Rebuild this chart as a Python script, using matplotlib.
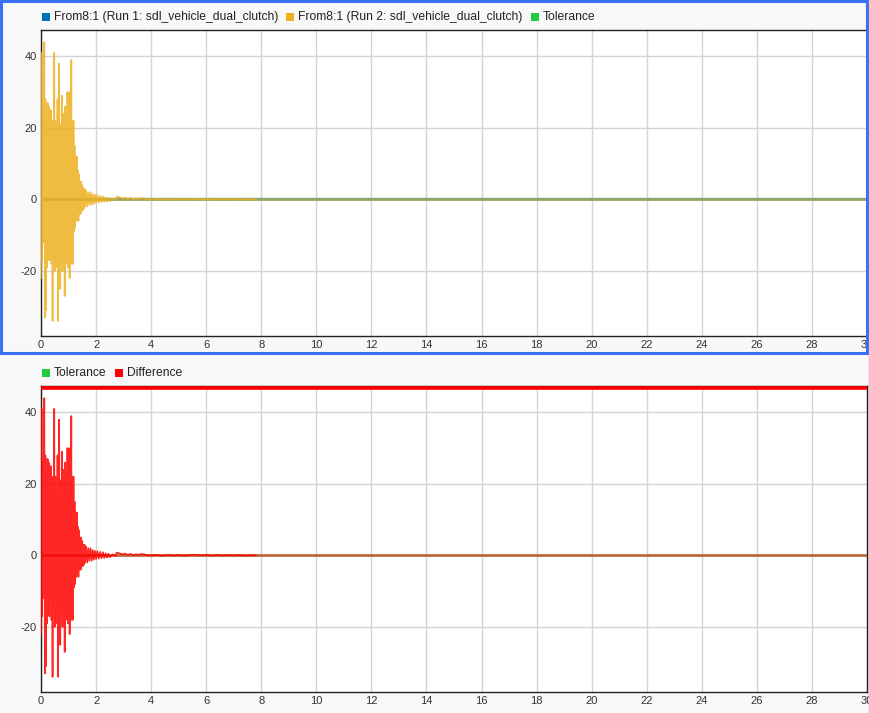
"""
plot.py - two stacked signal panels (runs + difference), Data Inspector style.
"""

import numpy as np
import matplotlib
matplotlib.use("Agg")
import matplotlib.pyplot as plt
from matplotlib.patches import Rectangle

# ---- data ----------------------------------------------------------------
# Run 1 stays at (about) zero the whole time
run1_t = [0.0, 30.0]
run1_v = [0.0, 0.0]

# Run 2: strong rattle that dies out after ~2 s, tiny noise until ~7.8 s
run2_t = [
    0.00, 0.02, 0.04, 0.06, 0.08, 0.10, 0.12, 0.14, 0.16, 0.18,
    0.20, 0.22, 0.24, 0.26, 0.28, 0.30, 0.32, 0.34, 0.36, 0.38,
    0.40, 0.42, 0.44, 0.46, 0.48, 0.50, 0.52, 0.54, 0.56, 0.58,
    0.60, 0.62, 0.64, 0.66, 0.68, 0.70, 0.72, 0.74, 0.76, 0.78,
    0.80, 0.82, 0.84, 0.86, 0.88, 0.90, 0.92, 0.94, 0.96, 0.98,
    1.00, 1.02, 1.04, 1.06, 1.08, 1.10, 1.12, 1.14, 1.16, 1.18,
    1.20, 1.22, 1.24, 1.26, 1.28, 1.30, 1.32, 1.34, 1.36, 1.38,
    1.40, 1.42, 1.44, 1.46, 1.48, 1.50, 1.52, 1.54, 1.56, 1.58,
    1.60, 1.64, 1.68, 1.72, 1.76, 1.80, 1.84, 1.88, 1.92, 1.96,
    2.00, 2.05, 2.10, 2.15, 2.20, 2.25, 2.30, 2.35, 2.40, 2.45,
    2.50, 2.60, 2.70, 2.75, 2.85, 2.95, 3.05, 3.15, 3.25, 3.35,
    3.45, 3.55, 3.65, 3.75, 3.85, 4.00, 4.20, 4.40, 4.60, 4.80,
    5.00, 5.20, 5.40, 5.60, 5.80, 6.00, 6.20, 6.40, 6.60, 6.80,
    7.00, 7.20, 7.40, 7.60, 7.80,
]
run2_v = [
    -22, 41, -17, 26, -12, 18, 44, -33, 28, -31,
    24, -19, 27, -14, 26, -17, 21, -13, 25, -18,
    15, -34, 22, -16, 41, -20, 22, -19, 18, -15,
    28, -34, 25, 38, -18, -25, 21, -17, 29, -20,
    24, -16, 20, -27, 26, -18, 22, -15, 30, -19,
    20, 30, -22, 18, -17, 39, -18, 22, -18, 22,
    -9, 15, -8, 12, -6, 12, -5, 8, -6, 7,
    -4, 5, -4, 5, -3, 4, -3, 3, -2.5, 3,
    -2, 2.5, -2, 2, -1.5, 2, -1.5, 1.5, -1.2, 1.3,
    -1, 1.2, -0.9, 1, -0.8, 0.9, -0.7, 0.6, -0.6, 0.5,
    -0.5, 0.3, -0.2, 0.8, 0.6, 0.3, 0.5, 0.2, 0.4, 0.1,
    0.3, 0.2, 0.4, 0.3, 0.1, 0, 0.15, -0.1, 0.15, -0.05,
    0.15, -0.05, 0.1, 0.2, 0, 0.15, -0.05, 0.15, 0, 0.1,
    0, 0.1, -0.05, 0.05, 0,
]

# tolerance (zero band) over the whole run
tol_t = [0.0, 30.0]
tol_v = [0.0, 0.0]

# out-of-tolerance flag drawn at the top of the difference panel
flag_t = [0.0, 30.0]
flag_v = [46.8, 46.8]

x_ticks = list(range(0, 31, 2))
y_ticks = [-20, 0, 20, 40]

top_labels = ["From8:1 (Run 1: sdl_vehicle_dual_clutch)",
              "From8:1 (Run 2: sdl_vehicle_dual_clutch)",
              "Tolerance"]
bottom_labels = ["Tolerance", "Difference"]

# ---- colours ----------------------------------------------------------------
BLUE = "#0072bd"
YELLOW = "#edb120"
GREEN = "#1fcc3f"
RED = "#ff0000"
TOP_OVERLAP = "#98a860"     # runs + tolerance drawn on top of each other
BOT_OVERLAP = "#be6a3c"     # difference + tolerance drawn on top of each other
BG = "#f8f8f8"
FRAME = "#3a6ff7"

plt.rcParams["font.family"] = ["Liberation Sans", "DejaVu Sans"]
plt.rcParams["axes.unicode_minus"] = False

W, H = 870, 713
fig = plt.figure(figsize=(W / 100, H / 100), dpi=100, facecolor=BG)


def px_axes(left, top, right, bottom):
    return fig.add_axes([left / W, 1 - bottom / H, (right - left) / W, (bottom - top) / H])


def style(ax):
    ax.set_facecolor("white")
    ax.set_xlim(0, 30)
    ax.set_ylim(-38.2, 47.4)
    ax.set_xticks(x_ticks)
    ax.set_yticks(y_ticks)
    ax.grid(True, color="#d4d4d4", linewidth=1.0)
    ax.set_axisbelow(True)
    ax.tick_params(length=0, labelsize=8, colors="#333333", pad=3)
    for s in ax.spines.values():
        s.set_color("#222222")
        s.set_linewidth(1.0)


def legend_row(y, labels, colors, x0=42):
    renderer = fig.canvas.get_renderer()
    x = x0
    for lab, col in zip(labels, colors):
        fig.add_artist(Rectangle((x / W, 1 - (y + 4) / H), 8 / W, 8 / H,
                                 transform=fig.transFigure, color=col, lw=0))
        t = fig.text((x + 12) / W, 1 - y / H, lab, fontsize=8.7,
                     color="#222222", va="center", ha="left")
        bb = t.get_window_extent(renderer)
        x = bb.x1 + 8


# ---- top panel: both runs ---------------------------------------------------
ax1 = px_axes(41, 30, 867, 336)
style(ax1)
ax1.plot(run1_t, run1_v, color=BLUE, lw=1.6, zorder=2)
ax1.plot(tol_t, tol_v, color=TOP_OVERLAP, lw=2.0, zorder=3)
ax1.plot(run2_t, run2_v, color=YELLOW, lw=1.2, alpha=0.85, zorder=4)

# ---- bottom panel: difference ----------------------------------------------
diff_v = np.array(run2_v) - np.interp(run2_t, run1_t, run1_v)

ax2 = px_axes(41, 386, 867, 692)
style(ax2)
ax2.plot(tol_t, tol_v, color=BOT_OVERLAP, lw=2.0, zorder=3)
ax2.plot(run2_t, diff_v, color=RED, lw=1.2, alpha=0.85, zorder=4)
ax2.plot(flag_t, flag_v, color=RED, lw=2.6, zorder=5, solid_capstyle="butt")

# ---- legends and panel frame ------------------------------------------------
legend_row(17, top_labels, [BLUE, YELLOW, GREEN])
legend_row(373, bottom_labels, [GREEN, RED])

fig.add_artist(Rectangle((1.5 / W, 1 - 353.5 / H), 866 / W, 352 / H,
                         transform=fig.transFigure, fill=False,
                         edgecolor=FRAME, lw=2.2))
fig.add_artist(plt.Line2D([869 / W, 869 / W], [0, 1], transform=fig.transFigure,
                          color="#8c8c8c", lw=1.0))

fig.savefig("out.png", dpi=100, facecolor=BG)
